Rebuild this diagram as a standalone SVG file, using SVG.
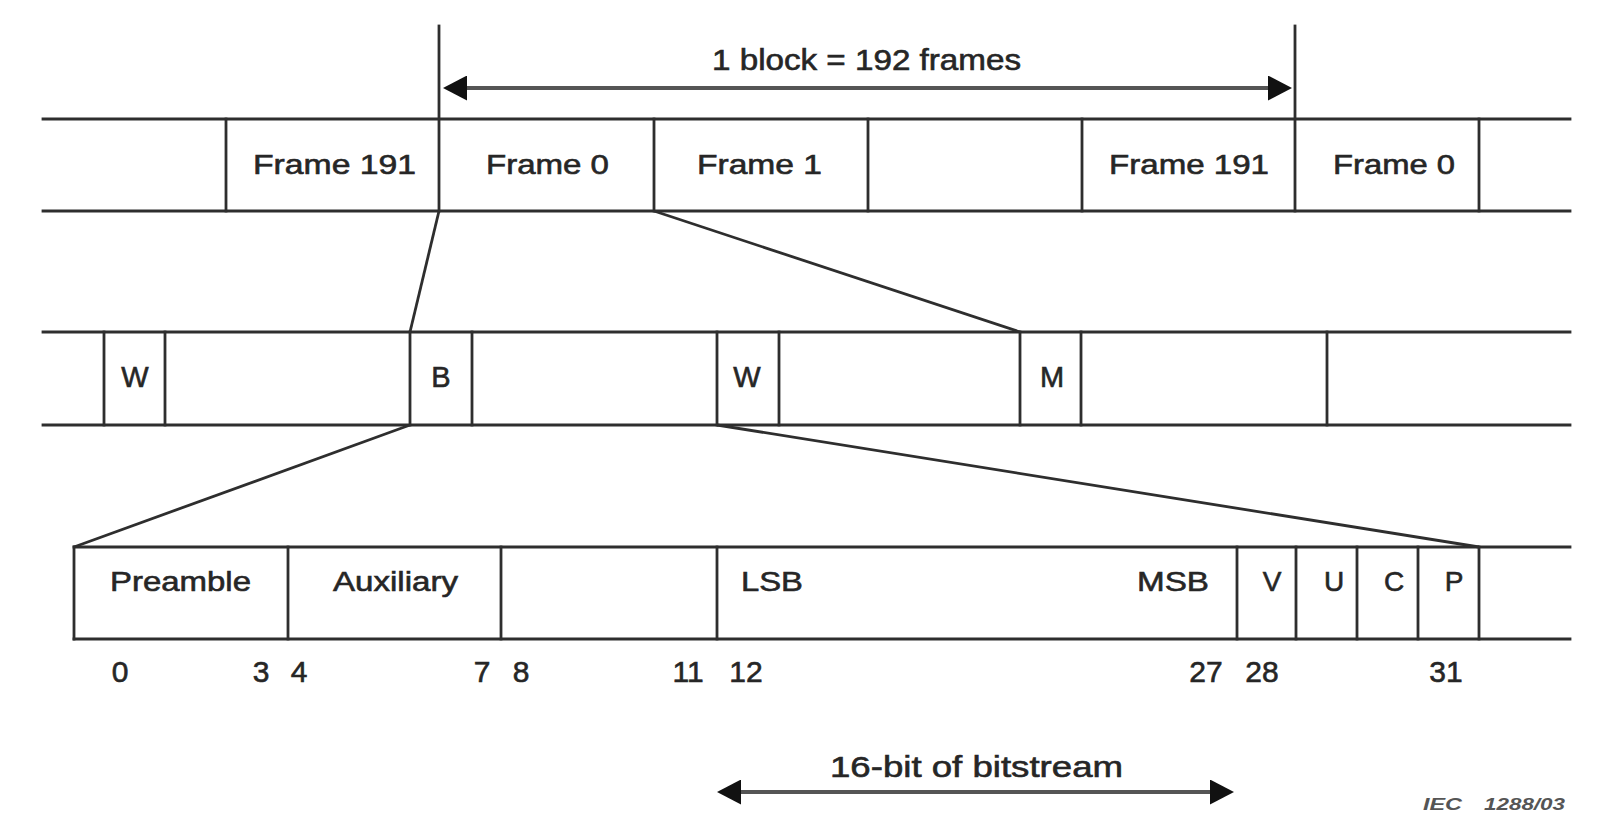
<svg xmlns="http://www.w3.org/2000/svg" width="1603" height="828" viewBox="0 0 1603 828">
  <style>
    .ln { stroke: #2e2e2e; stroke-width: 2.8; fill: none; stroke-linecap: square; }
    .cn { stroke: #2e2e2e; stroke-width: 2.8; fill: none; }
    .ar { stroke: #555; stroke-width: 4; fill: none; }
    text { font-family: "Liberation Sans", Arial, Helvetica, sans-serif; fill: #262626; stroke: #262626; stroke-width: 0.6; }
    .lbl { font-size: 28px; }
    .big { font-size: 29px; }
    .num { font-size: 30px; text-anchor: middle; }
    .mid { text-anchor: middle; }
    .iec { font-size: 16px; font-style: italic; font-weight: bold; fill: #555; stroke: none; }
  </style>
  <defs>
    <marker id="ah" viewBox="0 0 24 25" markerWidth="24" markerHeight="25" refX="14" refY="12.5" markerUnits="userSpaceOnUse" orient="auto-start-reverse">
      <path d="M0,0 L24,12.5 L0,25 z" fill="#111"/>
    </marker>
  </defs>
  <rect width="1603" height="828" fill="#ffffff"/>

  <!-- Block span -->
  <g id="block-span">
    <line class="ln" x1="439" y1="26" x2="439" y2="211"/>
    <line class="ln" x1="1295" y1="26" x2="1295" y2="211"/>
    <line class="ar" x1="453" y1="88" x2="1282" y2="88" marker-start="url(#ah)" marker-end="url(#ah)"/>
    <text class="big" x="712" y="70" textLength="309" lengthAdjust="spacingAndGlyphs">1 block = 192 frames</text>
  </g>

  <!-- Frame row -->
  <g id="frame-row">
    <line class="ln" x1="43" y1="119" x2="1570" y2="119"/>
    <line class="ln" x1="43" y1="211" x2="1570" y2="211"/>
    <line class="ln" x1="226" y1="119" x2="226" y2="211"/>
    <line class="ln" x1="654" y1="119" x2="654" y2="211"/>
    <line class="ln" x1="868" y1="119" x2="868" y2="211"/>
    <line class="ln" x1="1082" y1="119" x2="1082" y2="211"/>
    <line class="ln" x1="1479" y1="119" x2="1479" y2="211"/>
    <g id="frame-191-a"><text class="lbl" x="253" y="174" textLength="163" lengthAdjust="spacingAndGlyphs">Frame 191</text></g>
    <g id="frame-0-a"><text class="lbl" x="486" y="174" textLength="123" lengthAdjust="spacingAndGlyphs">Frame 0</text></g>
    <g id="frame-1"><text class="lbl" x="697" y="174" textLength="125" lengthAdjust="spacingAndGlyphs">Frame 1</text></g>
    <g id="frame-191-b"><text class="lbl" x="1109" y="174" textLength="160" lengthAdjust="spacingAndGlyphs">Frame 191</text></g>
    <g id="frame-0-b"><text class="lbl" x="1333" y="174" textLength="122" lengthAdjust="spacingAndGlyphs">Frame 0</text></g>
  </g>

  <!-- Subframe row -->
  <g id="subframe-row">
    <line class="ln" x1="43" y1="332" x2="1570" y2="332"/>
    <line class="ln" x1="43" y1="425" x2="1570" y2="425"/>
    <line class="ln" x1="104" y1="332" x2="104" y2="425"/>
    <line class="ln" x1="165" y1="332" x2="165" y2="425"/>
    <line class="ln" x1="410" y1="332" x2="410" y2="425"/>
    <line class="ln" x1="472" y1="332" x2="472" y2="425"/>
    <line class="ln" x1="717" y1="332" x2="717" y2="425"/>
    <line class="ln" x1="779" y1="332" x2="779" y2="425"/>
    <line class="ln" x1="1020" y1="332" x2="1020" y2="425"/>
    <line class="ln" x1="1081" y1="332" x2="1081" y2="425"/>
    <line class="ln" x1="1327" y1="332" x2="1327" y2="425"/>
    <g id="sub-w1"><text class="big mid" x="135" y="387">W</text></g>
    <g id="sub-b"><text class="big mid" x="441" y="387">B</text></g>
    <g id="sub-w2"><text class="big mid" x="747" y="387">W</text></g>
    <g id="sub-m"><text class="big mid" x="1052" y="387">M</text></g>
  </g>

  <!-- Bit row -->
  <g id="bit-row">
    <line class="ln" x1="74" y1="547" x2="1570" y2="547"/>
    <line class="ln" x1="74" y1="639" x2="1570" y2="639"/>
    <line class="ln" x1="74" y1="547" x2="74" y2="639"/>
    <line class="ln" x1="288" y1="547" x2="288" y2="639"/>
    <line class="ln" x1="501" y1="547" x2="501" y2="639"/>
    <line class="ln" x1="717" y1="547" x2="717" y2="639"/>
    <line class="ln" x1="1237" y1="547" x2="1237" y2="639"/>
    <line class="ln" x1="1296" y1="547" x2="1296" y2="639"/>
    <line class="ln" x1="1357" y1="547" x2="1357" y2="639"/>
    <line class="ln" x1="1418" y1="547" x2="1418" y2="639"/>
    <line class="ln" x1="1479" y1="547" x2="1479" y2="639"/>
    <g id="bit-preamble"><text class="lbl" x="110" y="591" textLength="141" lengthAdjust="spacingAndGlyphs">Preamble</text></g>
    <g id="bit-auxiliary"><text class="lbl" x="333" y="591" textLength="125" lengthAdjust="spacingAndGlyphs">Auxiliary</text></g>
    <g id="bit-audio">
      <text class="lbl" x="741" y="591" textLength="62" lengthAdjust="spacingAndGlyphs">LSB</text>
      <text class="lbl" x="1137" y="591" textLength="72" lengthAdjust="spacingAndGlyphs">MSB</text>
    </g>
    <g id="bit-v"><text class="lbl mid" x="1272" y="591">V</text></g>
    <g id="bit-u"><text class="lbl mid" x="1334" y="591">U</text></g>
    <g id="bit-c"><text class="lbl mid" x="1394" y="591">C</text></g>
    <g id="bit-p"><text class="lbl mid" x="1454" y="591">P</text></g>
    <g id="bit-numbers">
      <text class="num" x="120" y="682">0</text>
      <text class="num" x="261" y="682">3</text>
      <text class="num" x="299" y="682">4</text>
      <text class="num" x="482" y="682">7</text>
      <text class="num" x="521" y="682">8</text>
      <text class="num" x="688" y="682">11</text>
      <text class="num" x="746" y="682">12</text>
      <text class="num" x="1206" y="682">27</text>
      <text class="num" x="1262" y="682">28</text>
      <text class="num" x="1446" y="682">31</text>
    </g>
  </g>

  <!-- Connectors (expansion lines) -->
  <g id="connectors">
    <line class="cn" x1="439" y1="211" x2="410" y2="332"/>
    <line class="cn" x1="654" y1="211" x2="1020" y2="332"/>
    <line class="cn" x1="410" y1="425" x2="74" y2="547"/>
    <line class="cn" x1="717" y1="425" x2="1479" y2="547"/>
  </g>

  <!-- Bitstream span -->
  <g id="bitstream-span">
    <line class="ar" x1="727" y1="792" x2="1224" y2="792" marker-start="url(#ah)" marker-end="url(#ah)"/>
    <text class="num" x="830" y="777" style="text-anchor:start" textLength="293" lengthAdjust="spacingAndGlyphs">16-bit of bitstream</text>
  </g>

  <g id="iec-label">
    <text class="iec" x="1423" y="810" textLength="39" lengthAdjust="spacingAndGlyphs">IEC</text>
    <text class="iec" x="1484" y="810" textLength="81" lengthAdjust="spacingAndGlyphs">1288/03</text>
  </g>
</svg>
